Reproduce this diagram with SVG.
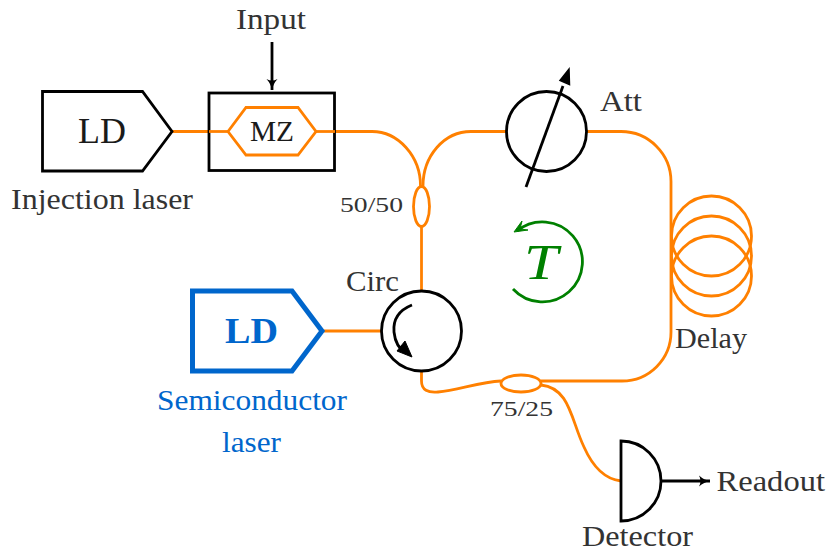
<svg xmlns="http://www.w3.org/2000/svg" width="827" height="553" viewBox="0 0 827 553">
<style>
text{font-family:"Liberation Serif","Times New Roman",serif;fill:#333}
.l{font-size:29px}
.s{font-size:22px}
.d{fill:#1a1a1a}
.b{fill:#0066cc}
.k{fill:#fff;stroke:#000;stroke-width:2.8;stroke-linejoin:miter}
.f{fill:none;stroke:#ff8000;stroke-width:2.8}
.a{fill:none;stroke:#000;stroke-width:2.8}
.t{fill:none;stroke:#008000;stroke-width:2.8}
</style>
<defs>
<marker id="open" markerUnits="userSpaceOnUse" markerWidth="14" markerHeight="14" refX="11" refY="7" orient="auto">
<path d="M0,1.5 Q5,6 11,7 Q5,8 0,12.5 Q3,7 0,1.5Z" fill="#000"/>
</marker>
</defs>
<rect width="827" height="553" fill="#fff"/>
<g id="connectors">
<path class="f" d="M172,131.5H228"/>
<path class="f" d="M316,131.5H372C398,131.5 420.5,156 420.5,186"/>
<path class="f" d="M423,186C423,156 444,131.5 471,131.5H507"/>
<path class="f" d="M421.5,226V292"/>
<path class="f" d="M586,131.5H621A50,50 0 0 1 671,181.500V332A49,49 0 0 1 622,381H541"/>
<path class="f" d="M421.5,370V381C421.500,390 428,393 438,392C458,390 480,382 501,381"/>
<path class="f" d="M541,385C570,388 571,420 584,447C592,465 603,479 621,481"/>
<path class="f" d="M324,331H382"/>
<path class="a" d="M662,481H710" marker-end="url(#open)"/>
<path class="a" d="M272,42V90" marker-end="url(#open)"/>
</g>
<g id="injection-laser">
<polygon class="k" points="42.5,91.5 142.5,91.5 172,131.500 142.5,171 42.5,171"/>
<text class="d" x="78" y="143" font-size="36" textLength="48" lengthAdjust="spacingAndGlyphs">LD</text>
<text class="l" x="11" y="209" textLength="182" lengthAdjust="spacingAndGlyphs">Injection laser</text>
</g>
<g id="mz-modulator">
<rect class="k" x="209" y="93" width="125.5" height="77.5"/>
<path class="f" d="M209,131.5H228"/>
<polygon class="f" points="228,131.5 246,107.5 298,107.5 316,131.5 298,155 246,155"/>
<path class="f" d="M316,131.5H335"/>
<text class="d" x="250" y="141" font-size="29" textLength="44" lengthAdjust="spacingAndGlyphs">MZ</text>
<text class="l" x="236" y="29" textLength="70" lengthAdjust="spacingAndGlyphs">Input</text>
</g>
<g id="coupler-50-50">
<ellipse class="f" cx="421.5" cy="206.5" rx="8" ry="20"/>
<text class="s" x="340" y="212" textLength="63" lengthAdjust="spacingAndGlyphs">50/50</text>
</g>
<g id="attenuator">
<circle class="a" cx="546.5" cy="131.5" r="40"/>
<path class="a" d="M526,187L563,86"/>
<polygon points="569,69 569.5,84.5 560,80.5" fill="#000" stroke="#000" stroke-width="1.5"/>
<text class="l" x="600" y="111" textLength="42" lengthAdjust="spacingAndGlyphs">Att</text>
</g>
<g id="delay">
<circle class="f" cx="711.5" cy="236" r="40"/>
<circle class="f" cx="711.5" cy="256" r="40"/>
<circle class="f" cx="711.5" cy="276" r="40"/>
<text class="l" x="675" y="348" textLength="72" lengthAdjust="spacingAndGlyphs">Delay</text>
</g>
<g id="roundtrip">
<path class="t" d="M513,289A40,40 0 1 0 517,231"/>
<path d="M514,232L522,221L520,229L528,230Z" fill="#008000" stroke="#008000" stroke-width="1"/>
<text x="524" y="279" font-size="50" font-style="italic" style="fill:#008000" textLength="34" lengthAdjust="spacingAndGlyphs">T</text>
</g>
<g id="semiconductor-laser">
<polygon points="192.5,291 292,291 322,331 292,371 192.5,371" fill="#fff" stroke="#0066cc" stroke-width="5"/>
<text class="b" x="225" y="343" font-size="36" font-weight="bold" textLength="53" lengthAdjust="spacingAndGlyphs">LD</text>
<text class="l b" x="157" y="410" textLength="190" lengthAdjust="spacingAndGlyphs">Semiconductor</text>
<text class="l b" x="222" y="452" textLength="59" lengthAdjust="spacingAndGlyphs">laser</text>
</g>
<g id="circulator">
<circle class="a" cx="421.5" cy="331" r="40"/>
<path class="a" d="M412,305C397,311 393,321 394,332C395,342 399,349 406,353"/>
<polygon points="412,357 397,351 405,341" fill="#000" stroke="#000" stroke-width="1"/>
<text class="l" x="346" y="291" textLength="53" lengthAdjust="spacingAndGlyphs">Circ</text>
</g>
<g id="coupler-75-25">
<ellipse class="f" cx="521" cy="383.5" rx="20" ry="8.5"/>
<text class="s" x="490" y="416" textLength="63" lengthAdjust="spacingAndGlyphs">75/25</text>
</g>
<g id="detector">
<path class="k" d="M621,441A40,40 0 0 1 621,521Z"/>
<text class="l" x="582" y="546" textLength="111" lengthAdjust="spacingAndGlyphs">Detector</text>
<text class="l" x="716.5" y="491" textLength="108.500" lengthAdjust="spacingAndGlyphs">Readout</text>
</g>
</svg>
